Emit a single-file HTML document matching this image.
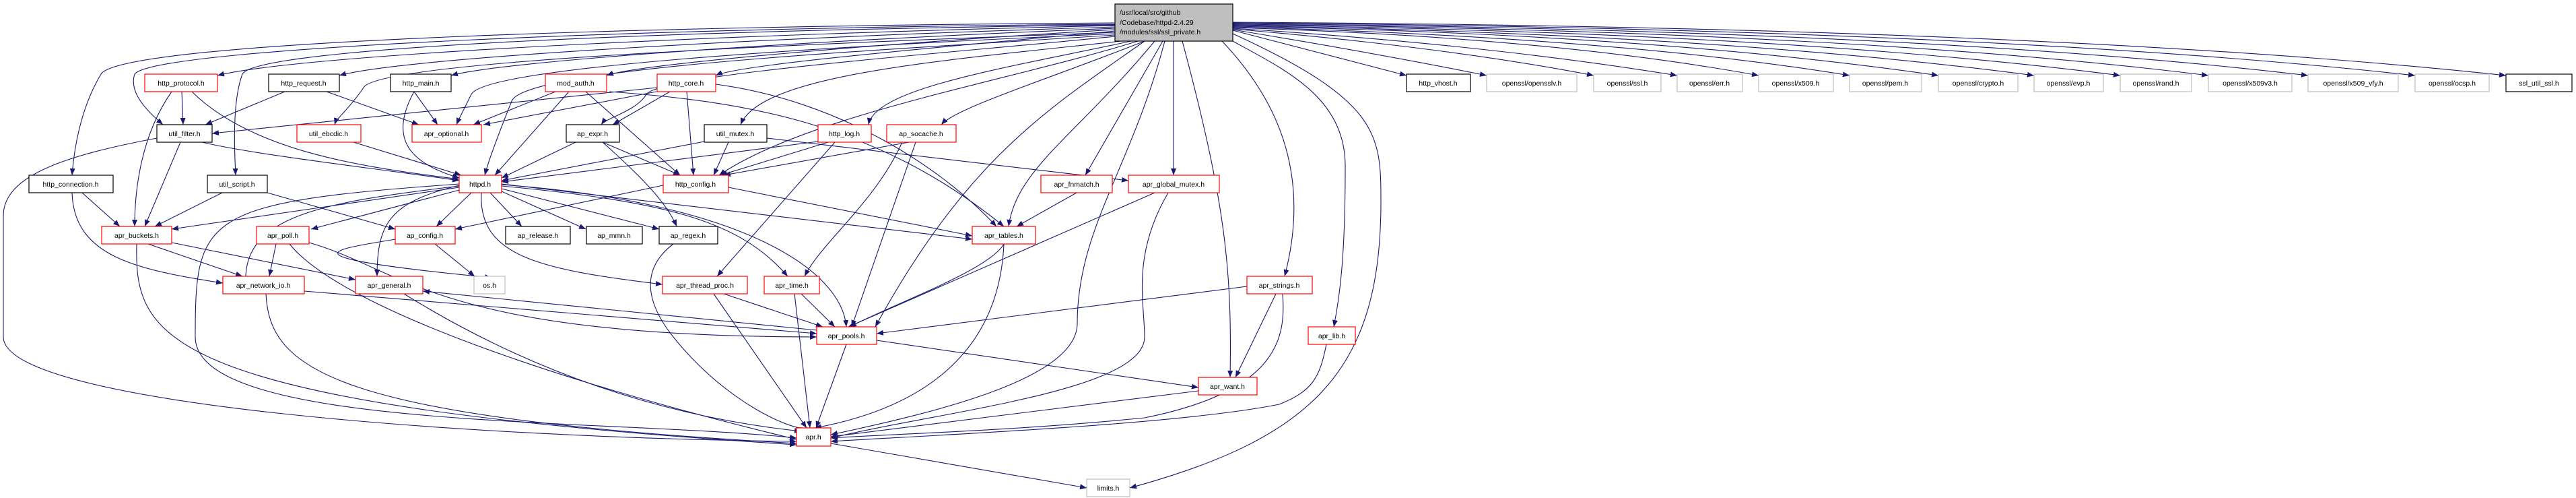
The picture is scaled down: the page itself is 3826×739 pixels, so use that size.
<!DOCTYPE html>
<html><head><meta charset="utf-8"><style>
html,body{margin:0;padding:0;background:#fff;}
svg{display:block;}
text{font-family:"Liberation Sans",sans-serif;font-size:10.5px;fill:#000;}
</style></head><body>
<svg width="3826" height="739" viewBox="0 0 3826 739" xmlns="http://www.w3.org/2000/svg">
<defs><marker id="a" markerWidth="10" markerHeight="8" refX="10" refY="4" orient="auto" markerUnits="userSpaceOnUse"><path d="M0,0 L10,4 L0,8 z" fill="#191970"/></marker></defs>
<g fill="none" stroke="#191970" stroke-width="1.1" marker-end="url(#a)">
<path d="M1656,38 C1100,50 450,80 323,112"/>
<path d="M1656,40 C1150,55 600,85 504,112"/>
<path d="M1656,42 C1200,60 750,90 670,112"/>
<path d="M1656,44 C1300,65 950,95 901,112"/>
<path d="M1656,46 C1400,70 1100,95 1063,112"/>
<path d="M1656,36 C1000,40 230,70 200,110 C190,140 225,170 242,185"/>
<path d="M1656,34 C1000,38 180,60 150,110 C120,160 110,220 107,260"/>
<path d="M1656,37 C1000,45 380,70 360,110 C345,150 348,220 350,260"/>
<path d="M1656,48 C1200,65 560,90 540,130 C520,160 500,175 497,185"/>
<path d="M1656,50 C1200,70 720,100 700,140 C685,170 680,180 678,185"/>
<path d="M1656,52 C1300,75 780,100 760,150 C740,200 725,240 720,260"/>
<path d="M1656,54 C1400,80 980,110 960,140 C945,165 900,175 893,185"/>
<path d="M1665,61 C1400,90 1130,110 1100,185"/>
<path d="M1680,61 C1500,100 1300,130 1290,185"/>
<path d="M1690,61 C1500,120 1200,170 1068,260"/>
<path d="M1700,61 C1550,120 1420,160 1398,185"/>
<path d="M1727,61 L1612,260"/>
<path d="M1743,61 L1743,260"/>
<path d="M1715,61 C1600,200 1510,250 1498,336"/>
<path d="M1756,61 C1820,300 1830,400 1827,560"/>
<path d="M1815,61 C1890,140 1950,250 1908,410"/>
<path d="M1820,55 C1900,100 2000,140 1998,250 C1998,380 1990,440 1981,485"/>
<path d="M1831,50 C2050,150 2051,200 2051,300 C2051,550 1950,650 1678,724"/>
<path d="M1730,61 C1680,250 1600,340 1600,480 C1600,560 1400,610 1234,645"/>
<path d="M1700,61 C1560,160 1440,230 1300,485"/>
<path d="M1831,45 L2089,112"/>
<path d="M1831,44 Q2050,80 2208,112"/>
<path d="M1831,43 Q2150,70 2367,112"/>
<path d="M1831,42 Q2200,65 2491,112"/>
<path d="M1831,41 Q2300,55 2612,112"/>
<path d="M1831,40 Q2400,55 2747,112"/>
<path d="M1831,39 Q2450,50 2879,112"/>
<path d="M1831,38 Q2550,50 3021,112"/>
<path d="M1831,37 Q2650,48 3149,112"/>
<path d="M1831,36 Q2750,46 3280,112"/>
<path d="M1831,35 Q2850,44 3428,112"/>
<path d="M1831,34 Q2950,42 3587,112"/>
<path d="M1831,33 Q3050,40 3722,112"/>
<path d="M270,136 L272,185"/>
<path d="M255,136 C210,200 200,280 200,336"/>
<path d="M285,136 C380,230 560,250 682,266"/>
<path d="M423,136 L305,185"/>
<path d="M485,136 L622,185"/>
<path d="M615,136 L650,185"/>
<path d="M615,136 C580,200 600,240 682,264"/>
<path d="M825,136 L703,185"/>
<path d="M845,136 L735,260"/>
<path d="M870,136 L1010,260"/>
<path d="M905,136 C1100,150 1300,180 1491,336"/>
<path d="M975,136 L718,185"/>
<path d="M995,136 L910,185"/>
<path d="M1020,136 L1030,260"/>
<path d="M1063,125 C1250,150 1400,250 1480,336"/>
<path d="M976,130 L315,198"/>
<path d="M300,211 C380,230 560,250 682,268"/>
<path d="M268,211 L215,336"/>
<path d="M233,205 C100,230 5,260 5,320 L5,500 C5,600 700,650 1183,655"/>
<path d="M525,211 L685,260"/>
<path d="M855,211 L745,264"/>
<path d="M895,211 L1010,260"/>
<path d="M895,211 C950,260 990,300 1005,336"/>
<path d="M1046,210 L745,268"/>
<path d="M1082,211 L1060,260"/>
<path d="M1139,205 L1676,268"/>
<path d="M1215,210 L745,270"/>
<path d="M1230,211 L1070,260"/>
<path d="M1240,211 L1065,410"/>
<path d="M1350,211 L1075,260"/>
<path d="M1360,211 L1265,485"/>
<path d="M1340,211 C1300,300 1220,360 1195,410"/>
<path d="M122,286 L178,336"/>
<path d="M107,286 C110,380 200,400 331,420"/>
<path d="M330,286 L230,336"/>
<path d="M397,286 L587,340"/>
<path d="M682,278 L255,340"/>
<path d="M682,282 L462,340"/>
<path d="M700,286 L648,336"/>
<path d="M728,286 L775,336"/>
<path d="M745,284 L870,340"/>
<path d="M745,280 L979,340"/>
<path d="M715,286 C710,380 800,400 984,422"/>
<path d="M745,276 C1000,300 1100,330 1170,410"/>
<path d="M745,274 C1100,300 1250,400 1257,485"/>
<path d="M745,273 L1444,355"/>
<path d="M682,276 C480,300 360,320 365,420"/>
<path d="M682,275 C580,300 560,330 560,410"/>
<path d="M682,273 C300,300 290,320 290,500 C290,640 900,620 1183,650"/>
<path d="M985,275 L676,340"/>
<path d="M1082,278 L1444,350"/>
<path d="M1599,286 L1510,336"/>
<path d="M1715,286 L1260,485"/>
<path d="M1735,286 C1680,380 1700,450 1700,500 C1700,580 1400,610 1234,650"/>
<path d="M220,362 L360,410"/>
<path d="M255,360 L528,415"/>
<path d="M203,362 C200,500 230,600 1183,660"/>
<path d="M410,362 L400,410"/>
<path d="M430,362 C500,450 800,560 1183,652"/>
<path d="M459,360 C600,400 650,500 1213,500"/>
<path d="M646,362 L705,410"/>
<path d="M587,355 C500,370 400,380 730,412"/>
<path d="M1000,362 C950,400 960,450 1000,500 C1080,600 1180,640 1197,635"/>
<path d="M452,432 L1213,495"/>
<path d="M395,436 C400,550 500,620 1183,658"/>
<path d="M1213,490 L628,432"/>
<path d="M600,436 C800,560 1000,620 1190,640"/>
<path d="M1075,436 L1222,485"/>
<path d="M1060,436 L1198,635"/>
<path d="M1190,436 L1240,485"/>
<path d="M1180,436 L1203,635"/>
<path d="M1852,425 L1302,495"/>
<path d="M1895,436 L1835,560"/>
<path d="M1905,436 C1910,500 1900,580 1700,620 C1500,640 1300,645 1234,650"/>
<path d="M1491,362 C1470,400 1330,450 1262,485"/>
<path d="M1491,362 C1485,500 1400,600 1210,635"/>
<path d="M1257,511 L1212,635"/>
<path d="M1302,505 L1780,575"/>
<path d="M1970,511 C1960,560 1950,580 1900,600 C1750,630 1400,645 1234,655"/>
<path d="M1780,580 L1234,648"/>
<path d="M1234,658 L1614,724"/>
</g>
<g stroke-width="1.2" fill="#fff">
<rect x="1656" y="6" width="175" height="55" fill="#bfbfbf" stroke="#000"/>
<g stroke="#ff0000">
<rect x="215" y="110" width="108" height="26"/>
<rect x="810" y="110" width="91" height="26"/>
<rect x="976" y="110" width="87" height="26"/>
<rect x="441" y="185" width="95" height="26"/>
<rect x="612" y="185" width="103" height="26"/>
<rect x="1215" y="185" width="79" height="26"/>
<rect x="1317" y="185" width="103" height="26"/>
<rect x="682" y="260" width="63" height="26"/>
<rect x="985" y="260" width="97" height="26"/>
<rect x="1546" y="260" width="106" height="26"/>
<rect x="1676" y="260" width="135" height="26"/>
<rect x="151" y="336" width="104" height="26"/>
<rect x="381" y="336" width="78" height="26"/>
<rect x="587" y="336" width="89" height="26"/>
<rect x="1444" y="336" width="94" height="26"/>
<rect x="331" y="410" width="121" height="26"/>
<rect x="528" y="410" width="100" height="26"/>
<rect x="984" y="410" width="126" height="26"/>
<rect x="1135" y="410" width="82" height="26"/>
<rect x="1852" y="410" width="97" height="26"/>
<rect x="1213" y="485" width="89" height="26"/>
<rect x="1943" y="485" width="70" height="26"/>
<rect x="1780" y="560" width="87" height="26"/>
<rect x="1183" y="635" width="51" height="27"/>
</g>
<g stroke="#000">
<rect x="399" y="110" width="105" height="26"/>
<rect x="580" y="110" width="90" height="26"/>
<rect x="2089" y="110" width="95" height="26"/>
<rect x="3722" y="110" width="98" height="26"/>
<rect x="233" y="185" width="82" height="26"/>
<rect x="841" y="185" width="79" height="26"/>
<rect x="1046" y="185" width="93" height="26"/>
<rect x="43" y="260" width="125" height="26"/>
<rect x="308" y="260" width="89" height="26"/>
<rect x="751" y="336" width="96" height="26"/>
<rect x="871" y="336" width="83" height="26"/>
<rect x="979" y="336" width="87" height="26"/>
</g>
<g stroke="#bfbfbf">
<rect x="2208" y="110" width="134" height="26"/>
<rect x="2367" y="110" width="100" height="26"/>
<rect x="2491" y="110" width="97" height="26"/>
<rect x="2612" y="110" width="111" height="26"/>
<rect x="2747" y="110" width="107" height="26"/>
<rect x="2879" y="110" width="118" height="26"/>
<rect x="3021" y="110" width="103" height="26"/>
<rect x="3149" y="110" width="106" height="26"/>
<rect x="3280" y="110" width="124" height="26"/>
<rect x="3428" y="110" width="134" height="26"/>
<rect x="3587" y="110" width="110" height="26"/>
<rect x="704" y="410" width="46" height="26"/>
<rect x="1614" y="711" width="64" height="26"/>
</g>
</g>
<text x="1663" y="22">/usr/local/src/github</text>
<text x="1663" y="37">/Codebase/httpd-2.4.29</text>
<text x="1663" y="51">/modules/ssl/ssl_private.h</text>
<g text-anchor="middle">
<text x="269" y="127">http_protocol.h</text>
<text x="451" y="127">http_request.h</text>
<text x="625" y="127">http_main.h</text>
<text x="855" y="127">mod_auth.h</text>
<text x="1019" y="127">http_core.h</text>
<text x="2136" y="127">http_vhost.h</text>
<text x="2275" y="127">openssl/opensslv.h</text>
<text x="2417" y="127">openssl/ssl.h</text>
<text x="2539" y="127">openssl/err.h</text>
<text x="2667" y="127">openssl/x509.h</text>
<text x="2800" y="127">openssl/pem.h</text>
<text x="2938" y="127">openssl/crypto.h</text>
<text x="3072" y="127">openssl/evp.h</text>
<text x="3202" y="127">openssl/rand.h</text>
<text x="3342" y="127">openssl/x509v3.h</text>
<text x="3495" y="127">openssl/x509_vfy.h</text>
<text x="3642" y="127">openssl/ocsp.h</text>
<text x="3771" y="127">ssl_util_ssl.h</text>
<text x="274" y="202">util_filter.h</text>
<text x="488" y="202">util_ebcdic.h</text>
<text x="663" y="202">apr_optional.h</text>
<text x="880" y="202">ap_expr.h</text>
<text x="1092" y="202">util_mutex.h</text>
<text x="1254" y="202">http_log.h</text>
<text x="1368" y="202">ap_socache.h</text>
<text x="105" y="277">http_connection.h</text>
<text x="352" y="277">util_script.h</text>
<text x="713" y="277">httpd.h</text>
<text x="1033" y="277">http_config.h</text>
<text x="1599" y="277">apr_fnmatch.h</text>
<text x="1743" y="277">apr_global_mutex.h</text>
<text x="203" y="353">apr_buckets.h</text>
<text x="420" y="353">apr_poll.h</text>
<text x="631" y="353">ap_config.h</text>
<text x="799" y="353">ap_release.h</text>
<text x="912" y="353">ap_mmn.h</text>
<text x="1022" y="353">ap_regex.h</text>
<text x="1491" y="353">apr_tables.h</text>
<text x="391" y="427">apr_network_io.h</text>
<text x="578" y="427">apr_general.h</text>
<text x="727" y="427">os.h</text>
<text x="1047" y="427">apr_thread_proc.h</text>
<text x="1176" y="427">apr_time.h</text>
<text x="1900" y="427">apr_strings.h</text>
<text x="1257" y="502">apr_pools.h</text>
<text x="1978" y="502">apr_lib.h</text>
<text x="1823" y="577">apr_want.h</text>
<text x="1208" y="652">apr.h</text>
<text x="1646" y="728">limits.h</text>
</g>
</svg>
</body></html>
